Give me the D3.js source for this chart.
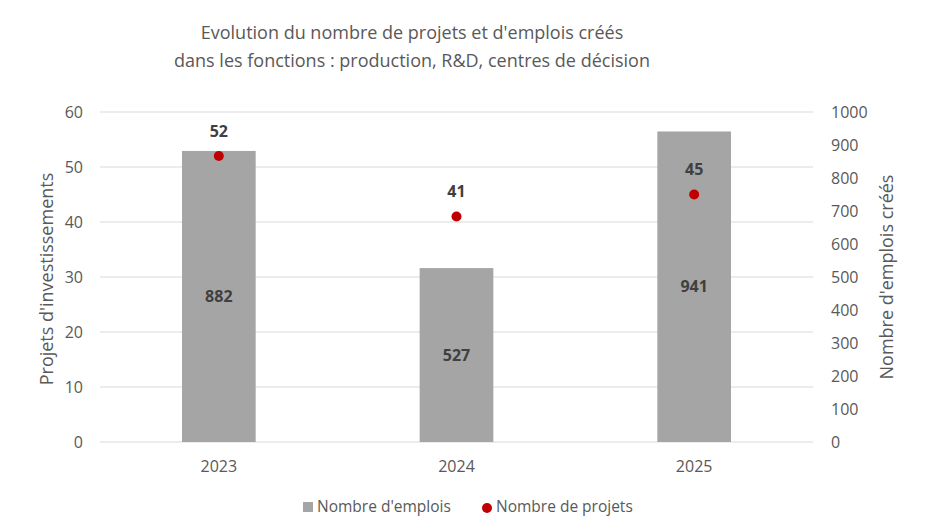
<!DOCTYPE html>
<html lang="fr">
<head>
    <meta charset="UTF-8">
    <title>Evolution du nombre de projets et d'emplois créés</title>
    <script src="https://d3js.org/d3.v7.min.js"></script>
    <style>
        body { margin: 0; background: #fff; font-family: "Open Sans", sans-serif; }
        svg { display: block; }
    </style>
</head>
<body>
    <svg width="930" height="530"></svg>
    <script>
        // data
        const years = ["2023", "2024", "2025"];
        const emplois = [882, 527, 941];
        const projets = [52, 41, 45];
        const leftTicks = [0, 10, 20, 30, 40, 50, 60];
        const rightTicks = [0, 100, 200, 300, 400, 500, 600, 700, 800, 900, 1000];
        const titleLines = [
            "Evolution du nombre de projets et d'emplois créés",
            "dans les fonctions : production, R&D, centres de décision"
        ];

        const svg = d3.select("svg");
        const textColor = "#595959";
        const plotLeft = 100, plotRight = 813, plotTop = 112, plotBottom = 442;

        const x = d3.scaleBand().domain(years).range([plotLeft, plotRight]).paddingInner(0.69).paddingOuter(0.345);
        const yL = d3.scaleLinear().domain([0, 60]).range([plotBottom, plotTop]);
        const yR = d3.scaleLinear().domain([0, 1000]).range([plotBottom, plotTop]);

        // title
        svg.append("g").selectAll("text")
            .data(titleLines)
            .join("text")
            .attr("x", 412)
            .attr("y", (d, i) => 39 + i * 28)
            .attr("text-anchor", "middle")
            .attr("font-size", 18)
            .attr("fill", textColor)
            .text(d => d);

        // gridlines
        svg.append("g").selectAll("line")
            .data(leftTicks)
            .join("line")
            .attr("x1", plotLeft).attr("x2", plotRight)
            .attr("y1", d => yL(d)).attr("y2", d => yL(d))
            .attr("stroke", "#d9d9d9")
            .attr("stroke-width", 1);

        // left axis
        const axL = svg.append("g")
            .attr("transform", `translate(${plotLeft - 17},0)`)
            .call(d3.axisLeft(yL).tickValues(leftTicks).tickSize(0).tickPadding(0));
        axL.select(".domain").remove();
        axL.selectAll("text").attr("font-size", 16).attr("fill", textColor).attr("font-family", "Open Sans");

        // right axis
        const axR = svg.append("g")
            .attr("transform", `translate(${plotRight + 18},0)`)
            .call(d3.axisRight(yR).tickValues(rightTicks).tickFormat(d3.format("d")).tickSize(0).tickPadding(0));
        axR.select(".domain").remove();
        axR.selectAll("text").attr("font-size", 16).attr("fill", textColor).attr("font-family", "Open Sans");

        // x axis
        const axX = svg.append("g")
            .attr("transform", `translate(0,${plotBottom})`)
            .call(d3.axisBottom(x).tickSize(0).tickPadding(19));
        axX.select(".domain").remove();
        axX.selectAll("text").attr("font-size", 16).attr("fill", textColor).attr("font-family", "Open Sans");

        // axis titles
        svg.append("text")
            .attr("transform", `translate(53,${(plotTop + plotBottom) / 2 + 2}) rotate(-90)`)
            .attr("text-anchor", "middle")
            .attr("font-size", 18)
            .attr("fill", textColor)
            .text("Projets d'investissements");
        svg.append("text")
            .attr("transform", `translate(893,${(plotTop + plotBottom) / 2}) rotate(-90)`)
            .attr("text-anchor", "middle")
            .attr("font-size", 18)
            .attr("fill", textColor)
            .text("Nombre d'emplois créés");

        // bars
        svg.append("g").selectAll("rect")
            .data(years)
            .join("rect")
            .attr("x", d => x(d))
            .attr("width", x.bandwidth())
            .attr("y", (d, i) => yR(emplois[i]))
            .attr("height", (d, i) => plotBottom - yR(emplois[i]))
            .attr("fill", "#a5a5a5");

        // bar labels
        svg.append("g").selectAll("text")
            .data(years)
            .join("text")
            .attr("x", d => x(d) + x.bandwidth() / 2)
            .attr("y", (d, i) => (yR(emplois[i]) + plotBottom) / 2)
            .attr("dy", "0.35em")
            .attr("text-anchor", "middle")
            .attr("font-size", 16)
            .attr("font-weight", "bold")
            .attr("fill", "#404040")
            .text((d, i) => emplois[i]);

        // dots
        svg.append("g").selectAll("circle")
            .data(years)
            .join("circle")
            .attr("cx", d => x(d) + x.bandwidth() / 2)
            .attr("cy", (d, i) => yL(projets[i]))
            .attr("r", 5)
            .attr("fill", "#c00000");

        svg.append("g").selectAll("text")
            .data(years)
            .join("text")
            .attr("x", d => x(d) + x.bandwidth() / 2)
            .attr("y", (d, i) => yL(projets[i]) - 25)
            .attr("dy", "0.35em")
            .attr("text-anchor", "middle")
            .attr("font-size", 16)
            .attr("font-weight", "bold")
            .attr("fill", "#404040")
            .text((d, i) => projets[i]);

        // legend
        const lg = svg.append("g").attr("font-size", 15.5).attr("fill", textColor);
        lg.append("rect").attr("x", 303).attr("y", 502).attr("width", 10).attr("height", 10).attr("fill", "#a5a5a5");
        lg.append("text").attr("x", 317).attr("y", 507).attr("dy", "0.35em").text("Nombre d'emplois");
        lg.append("circle").attr("cx", 487).attr("cy", 508).attr("r", 5).attr("fill", "#c00000");
        lg.append("text").attr("x", 496).attr("y", 507).attr("dy", "0.35em").text("Nombre de projets");
    </script>
</body>
</html>
